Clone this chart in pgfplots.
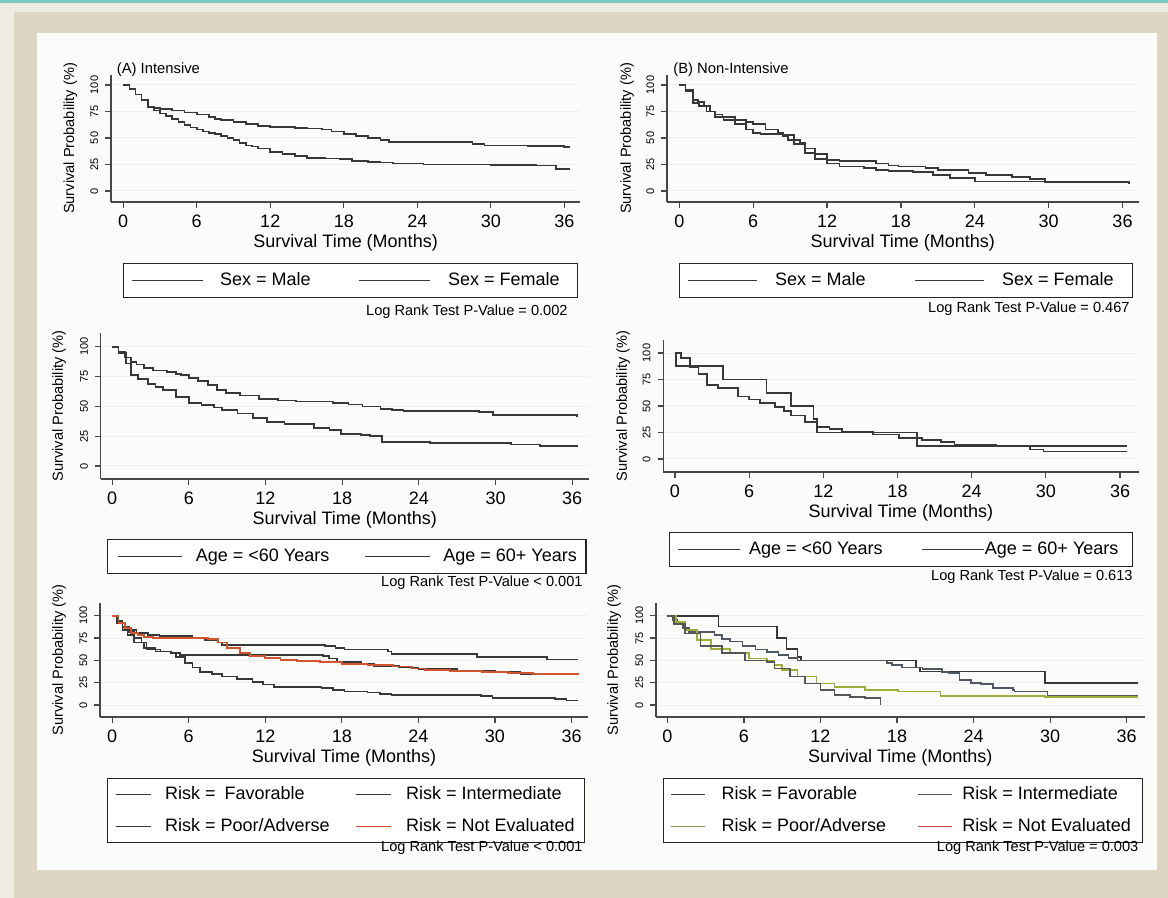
\documentclass[border=0pt]{standalone}
\usepackage{fontspec}
\setmainfont{Liberation Sans}
\usepackage{pgfplots}
\pgfplotsset{compat=1.18}

\definecolor{curve}{HTML}{383838}
\definecolor{axcol}{HTML}{474747}
\definecolor{notev}{HTML}{D2552F}
\definecolor{notevleg}{HTML}{C9504A}
\definecolor{olivec}{HTML}{A2AC3A}
\definecolor{oliveleg}{HTML}{8C9668}
\definecolor{intc}{HTML}{505862}
\definecolor{bgout}{HTML}{EEEBE2}
\definecolor{bgframe}{HTML}{DDD6C3}
\definecolor{panel}{HTML}{FBFBF9}
\definecolor{tealc}{HTML}{7ACBC3}
\definecolor{gridc}{HTML}{EFEFEF}

\newcommand{\fs}[1]{\fontsize{#1}{#1}\selectfont}

\pgfplotsset{
  km/.style={
    scale only axis,
    axis lines=left,
    axis line style={-, draw=axcol, line width=0.7pt},
    tick align=outside,
    major tick length=2.8pt,
    tick style={draw=axcol, line width=0.6pt},
    xtick={0,6,...,36},
    ytick={0,25,50,75,100},
    minor tick num=0,
    ymajorgrids=true,
    major grid style={draw=gridc, line width=0.5pt},
    /pgf/number format/assume math mode=true,
    xticklabel style={font=\fs{9}},
    yticklabel style={font=\fs{5.5}, rotate=90, anchor=south},
    xlabel={Survival Time (Months)},
    ylabel={Survival Probability (\%)},
    xlabel style={font=\fs{9}, at={(axis description cs:0.5,0)}, anchor=center, yshift=-20.5pt},
    ylabel style={font=\fs{7.3}, anchor=center},
    every axis plot/.append style={line width=0.85pt},
    legend cell align=left,
    legend style={anchor=north west, draw=black!85, line width=0.7pt, fill=white,
      inner xsep=4pt, inner ysep=4.25pt, font=\fs{9},
      nodes={inner sep=0pt, text height=6.6pt, text depth=1.9pt}},
  },
}

\begin{document}
\begin{tikzpicture}
% background
\fill[bgout] (0,0) rectangle (584pt,-449pt);
\fill[bgframe] (7pt,-6pt) rectangle (584pt,-449pt);
\fill[panel] (18.5pt,-16.5pt) rectangle (578.5pt,-435pt);
\fill[tealc] (0,0) rectangle (584pt,-1.3pt);
\path[use as bounding box] (0,0) rectangle (584pt,-449pt);

% ---------------- A1 ----------------
\begin{axis}[km, at={(55.5pt,-101pt)}, anchor=south west,
  width=234.6pt, height=63.5pt,
  xmin=-1, xmax=37.3, ymin=-10.4, ymax=109.4,
  ylabel style={at={(axis description cs:-0.0867,0.5)}},
  legend columns=2,
  legend image code/.code={\draw[#1, line width=0.7pt] (0pt,0pt) -- (35.5pt,0pt);},
  legend style={at={(0.0256,-0.480)},
    /tikz/column 1/.style={column sep=8pt},
    /tikz/column 2/.style={column sep=24pt},
    /tikz/column 3/.style={column sep=8.5pt}},
]
\addplot[const plot, curve] coordinates {(0,100)(0.5,96)(1.0,91)(1.5,86)(2.0,79)(2.5,76)(3.0,73)(3.5,71)(4.0,68)(4.5,65)(5.0,62)(5.5,60)(6.0,58)(6.5,56)(7.0,55)(7.5,54)(8.0,52)(8.5,50)(9.0,48)(9.5,45)(10.0,43)(10.5,42)(11.0,40)(12.0,37)(13.0,35)(14.0,33)(15.0,31)(16.5,30.5)(17.7,30)(18.7,28)(20.0,27.5)(21.0,27)(22.0,26)(24.5,25)(30.0,24.5)(33.7,24)(35.3,21)(36.5,21)};
\addlegendentry{Sex = Male}
\addplot[const plot, curve] coordinates {(0,100)(0.5,96)(1.0,91)(1.5,86)(2.0,79)(2.5,78)(3.0,77)(4.0,76)(5.0,74)(6.0,72)(7.0,70)(7.5,68)(8.0,67)(9.0,65)(10.0,63)(11.0,61.5)(12.0,60.5)(14.0,59.5)(15.0,59)(16.2,58)(17.0,56)(18.0,54)(19.0,52)(20.0,50)(21.0,48)(21.7,46.5)(27.7,46)(28.5,44)(29.5,43)(33.0,42.5)(36.0,41.5)(36.5,41.5)};
\addlegendentry{Sex = Female\kern4.8pt}
\end{axis}
\node[anchor=west, font=\fs{7.4}, inner sep=0pt] at (58.25pt,-35pt) {(A) Intensive};
\node[anchor=east, font=\fs{7.3}, inner sep=0pt] at (284pt,-155.8pt) {Log Rank Test P-Value = 0.002};

% ---------------- B1 ----------------
\begin{axis}[km, at={(333.5pt,-101pt)}, anchor=south west,
  width=235.75pt, height=63.5pt,
  xmin=-1, xmax=37.3, ymin=-10.4, ymax=109.4,
  ylabel style={at={(axis description cs:-0.0848,0.5)}},
  legend columns=2,
  legend image code/.code={\draw[#1, line width=0.7pt] (0pt,0pt) -- (34.5pt,0pt);},
  legend style={at={(0.0255,-0.480)},
    /tikz/column 1/.style={column sep=8.5pt},
    /tikz/column 2/.style={column sep=24.5pt},
    /tikz/column 3/.style={column sep=8.5pt}},
]
\addplot[const plot, curve] coordinates {(0,100)(0.5,95)(1.1,86)(1.5,84)(2.0,80)(2.5,75)(2.9,72)(3.5,70)(4.5,67)(5.4,65)(6.0,63)(7.0,58)(8.0,55)(8.4,53)(9.3,48)(9.8,45)(10.2,40)(11.0,35)(12.0,29)(13.0,28)(15.1,28)(16.0,26)(17.0,24)(17.8,23)(20.0,22)(21.0,20)(22.4,20)(23.5,17)(24.9,15)(27.0,13)(28.5,11)(29.7,9)(36.5,8)};
\addlegendentry{Sex = Male}
\addplot[const plot, curve] coordinates {(0,100)(0.5,94)(1.1,83)(1.6,80)(2.2,75)(2.9,70)(3.6,67)(4.5,63)(5.4,58)(6.0,55)(6.6,54)(7.5,54)(8.4,52)(8.8,48)(9.3,44)(10.2,36)(11.0,30)(12.0,26)(13.0,23)(15.0,22)(16.0,20)(17.0,19)(19.0,18)(20.6,15)(22.0,12)(24.0,9)(29.7,8)(36.5,7)};
\addlegendentry{Sex = Female\kern5.5pt}
\end{axis}
\node[anchor=west, font=\fs{7.4}, inner sep=0pt] at (336.5pt,-35pt) {(B) Non-Intensive};
\node[anchor=east, font=\fs{7.3}, inner sep=0pt] at (565pt,-154.5pt) {Log Rank Test P-Value = 0.467};

% ---------------- A2 ----------------
\begin{axis}[km, at={(50.3pt,-239.5pt)}, anchor=south west,
  width=244.1pt, height=73pt,
  xmin=-0.9, xmax=37.3, ymin=-10.9, ymax=111.5,
  ylabel style={at={(axis description cs:-0.0848,0.5)}},
  legend columns=2,
  legend image code/.code={\draw[#1, line width=0.7pt] (0pt,0pt) -- (32.3pt,0pt);},
  legend style={at={(0.0131,-0.411)}, inner xsep=4.6pt,
    /tikz/column 1/.style={column sep=6.5pt},
    /tikz/column 2/.style={column sep=17.5pt},
    /tikz/column 3/.style={column sep=6.5pt}},
]
\addplot[const plot, curve] coordinates {(0,100)(0.5,96)(1.0,91)(1.5,87)(1.9,85)(2.5,82)(3.2,80)(4.3,79)(5.0,77)(5.4,76)(6.0,74)(6.7,71)(7.5,68)(8.2,64)(8.9,61)(10.0,59)(11.5,56)(13.0,55)(14.4,54)(17.3,53)(18.5,51.5)(19.6,50)(21.0,48)(21.9,47)(22.8,46)(28.7,45)(29.8,43)(36.4,41)};
\addlegendentry{Age = <60 Years}
\addplot[const plot, curve] coordinates {(0,100)(0.5,95)(1.1,86)(1.5,76)(2.0,73)(2.8,69)(3.4,66)(4.0,64)(5.0,58)(6.0,53)(7.0,51)(8.0,49)(8.6,47)(9.8,44)(11.0,40)(12.1,37)(13.5,35)(15.8,32)(17.0,30)(17.9,27)(19.5,26)(20.2,25)(21.1,20)(24.9,19)(31.2,18)(33.5,17)(36.4,16)};
\addlegendentry{Age = 60+ Years}
\end{axis}
\node[anchor=east, font=\fs{7.3}, inner sep=0pt] at (291.5pt,-291.5pt) {Log Rank Test P-Value < 0.001};

% ---------------- B2 ----------------
\begin{axis}[km, at={(331.6pt,-236pt)}, anchor=south west,
  width=237.7pt, height=66pt,
  xmin=-0.95, xmax=37.5, ymin=-12.3, ymax=112.3,
  ylabel style={at={(axis description cs:-0.0841,0.5)}},
  legend columns=2,
  legend image code/.code={\draw[#1, line width=0.7pt] (0pt,0pt) -- (31pt,0pt);},
  legend style={at={(0.0122,-0.4545)},
    /tikz/column 1/.style={column sep=4pt},
    /tikz/column 2/.style={column sep=19.5pt},
    /tikz/column 3/.style={column sep=0pt}},
]
\addplot[const plot, curve] coordinates {(0,100)(0.1,87.5)(3.9,75)(7.4,62.5)(9.4,50)(11.2,37.5)(11.5,25)(19.6,12.5)(36.6,12.5)};
\addlegendentry{Age = <60 Years}
\addplot[const plot, curve] coordinates {(0,100)(0.5,95)(1.2,87)(1.9,80)(2.6,70)(3.5,67)(5.1,59)(6.0,56)(6.9,53)(8.1,49)(8.8,45)(9.4,41)(10.5,35)(11.5,30)(12.5,28)(13.5,26)(16.0,23)(18.1,20)(20.0,18)(21.5,16)(22.6,13)(26.0,12)(28.7,9)(29.8,7)(36.6,7)};
\addlegendentry{Age = 60+ Years\kern3pt}
\end{axis}
\node[anchor=east, font=\fs{7.3}, inner sep=0pt] at (566.5pt,-288.5pt) {Log Rank Test P-Value = 0.613};

% ---------------- A3 ----------------
\begin{axis}[km, at={(49.95pt,-358.5pt)}, anchor=south west,
  width=244.1pt, height=57pt,
  xmin=-0.96, xmax=37.3, ymin=-13.4, ymax=114.2,
  ylabel style={at={(axis description cs:-0.0834,0.5)}},
  legend columns=2,
  legend image code/.code={\draw[#1, line width=0.7pt] (0pt,0pt) -- (17.5pt,0pt);},
  legend style={at={(0.0145,-0.535)}, inner ysep=3.75pt, /tikz/row sep=7.5pt,
    /tikz/column 1/.style={column sep=6.5pt},
    /tikz/column 2/.style={column sep=13pt},
    /tikz/column 3/.style={column sep=7pt}},
]
\addplot[const plot, curve] coordinates {(0,100)(0.4,93)(0.8,87)(1.3,82)(1.7,75)(2.3,70)(2.7,62)(3.8,60)(4.6,58)(5.3,56)(16.5,55)(17.0,52)(17.6,48)(19.5,46)(20.5,44)(22.5,42)(24.0,40)(27.0,38.5)(30.0,37)(32.0,35)(36.5,35)};
\addlegendentry{Risk = \kern2pt Favorable}
\addplot[const plot, curve] coordinates {(0,100)(0.4,94)(0.8,88)(1.3,84)(1.9,81)(2.8,78)(3.7,77)(6.3,75)(7.3,73)(8.3,70)(8.6,67)(16.7,66)(17.5,64)(18.2,62)(21.6,60)(21.9,57)(28.6,54)(34.1,51)(36.5,51)};
\addlegendentry{Risk = Intermediate}
\addplot[const plot, curve] coordinates {(0,100)(0.4,92)(0.8,84)(1.2,78)(1.7,70)(2.5,64)(3.4,60)(4.6,58)(5.0,54)(5.7,47)(6.3,42)(6.9,37)(7.8,35)(8.6,32)(9.8,29)(11.0,26)(11.8,23)(12.7,20)(16.4,19)(17.3,17)(18.2,15)(20.0,14)(21.0,12)(21.9,11)(28.9,10)(29.8,8)(34.7,7)(35.6,5)(36.5,5)};
\addlegendentry{Risk = Poor/Adverse}
\addplot[const plot, notev] coordinates {(0,100)(0.5,92)(1.0,86)(1.5,81)(2.0,78)(2.5,76)(3.2,75)(7.5,74)(8.3,70)(9.0,64)(10.0,58)(10.8,55)(12.0,53)(13.2,50.5)(14.5,49.5)(16.3,48)(18.0,46)(20.0,44.5)(22.0,43)(23.5,41)(24.5,39)(26.5,38)(29.0,37)(31.0,36)(33.0,35)(36.5,34.5)};
\addlegendentry{Risk = Not Evaluated\kern1pt}
\end{axis}
\node[anchor=east, font=\fs{7.3}, inner sep=0pt] at (291.5pt,-424pt) {Log Rank Test P-Value < 0.001};

% ---------------- B3 ----------------
\begin{axis}[km, at={(328pt,-358.5pt)}, anchor=south west,
  width=244.25pt, height=57pt,
  xmin=-0.89, xmax=37.4, ymin=-13.4, ymax=114.2,
  ylabel style={at={(axis description cs:-0.086,0.5)}},
  legend columns=2,
  legend image code/.code={\draw[#1, line width=0.7pt] (0pt,0pt) -- (17pt,0pt);},
  legend style={at={(0.0133,-0.535)}, inner xsep=3.75pt, inner ysep=3.75pt, /tikz/row sep=7.5pt,
    /tikz/column 1/.style={column sep=7.75pt},
    /tikz/column 2/.style={column sep=15.5pt},
    /tikz/column 3/.style={column sep=4.85pt}},
]
\addplot[const plot, curve, forget plot] coordinates {(0,100)(4.0,88)(8.6,75)(9.35,63)(10.2,54)(10.5,50)(19.5,42)(19.8,37.5)(29.6,25)(36.9,25)};
\addplot[const plot, intc, forget plot] coordinates {(0,100)(0.4,95)(0.8,91)(1.2,86)(1.7,82)(3.7,78)(4.3,74)(4.9,71)(5.9,66)(6.9,62)(7.8,59)(8.7,56)(9.5,53)(10.2,50)(17.2,47)(17.6,45)(18.4,42)(20.0,40)(21.5,37)(22.1,36)(22.9,28)(23.8,25)(24.6,23.5)(25.5,19)(27.1,17)(27.2,15)(29.8,10)(36.9,10)};
\addplot[const plot, olivec, forget plot] coordinates {(0,100)(0.65,93)(1.4,84)(2.3,73)(3.4,63)(4.9,58)(6.4,52)(7.8,50)(8.4,45)(9.0,39)(10.2,32)(11.7,24)(13.1,20.5)(15.5,17)(18.1,15)(21.4,10)(29.6,9.3)(36.9,9.3)};
\addplot[const plot, curve!85, forget plot] coordinates {(0,100)(0.5,91)(1.4,80)(2.6,66)(4.3,58)(6.1,50)(7.8,48)(8.4,41)(9.6,32)(10.8,24)(12.0,17)(13.1,11)(14.3,9)(15.5,7.5)(16.7,0)};
\addlegendimage{curve, line width=0.7pt}
\addlegendentry{Risk = Favorable}
\addlegendimage{intc, line width=0.7pt}
\addlegendentry{Risk = Intermediate}
\addlegendimage{oliveleg, line width=0.7pt}
\addlegendentry{Risk = Poor/Adverse}
\addlegendimage{notevleg, line width=0.7pt}
\addlegendentry{Risk = Not Evaluated\kern2pt}
\end{axis}
\node[anchor=east, font=\fs{7.3}, inner sep=0pt] at (569.35pt,-424pt) {Log Rank Test P-Value = 0.003};
\end{tikzpicture}
\end{document}
